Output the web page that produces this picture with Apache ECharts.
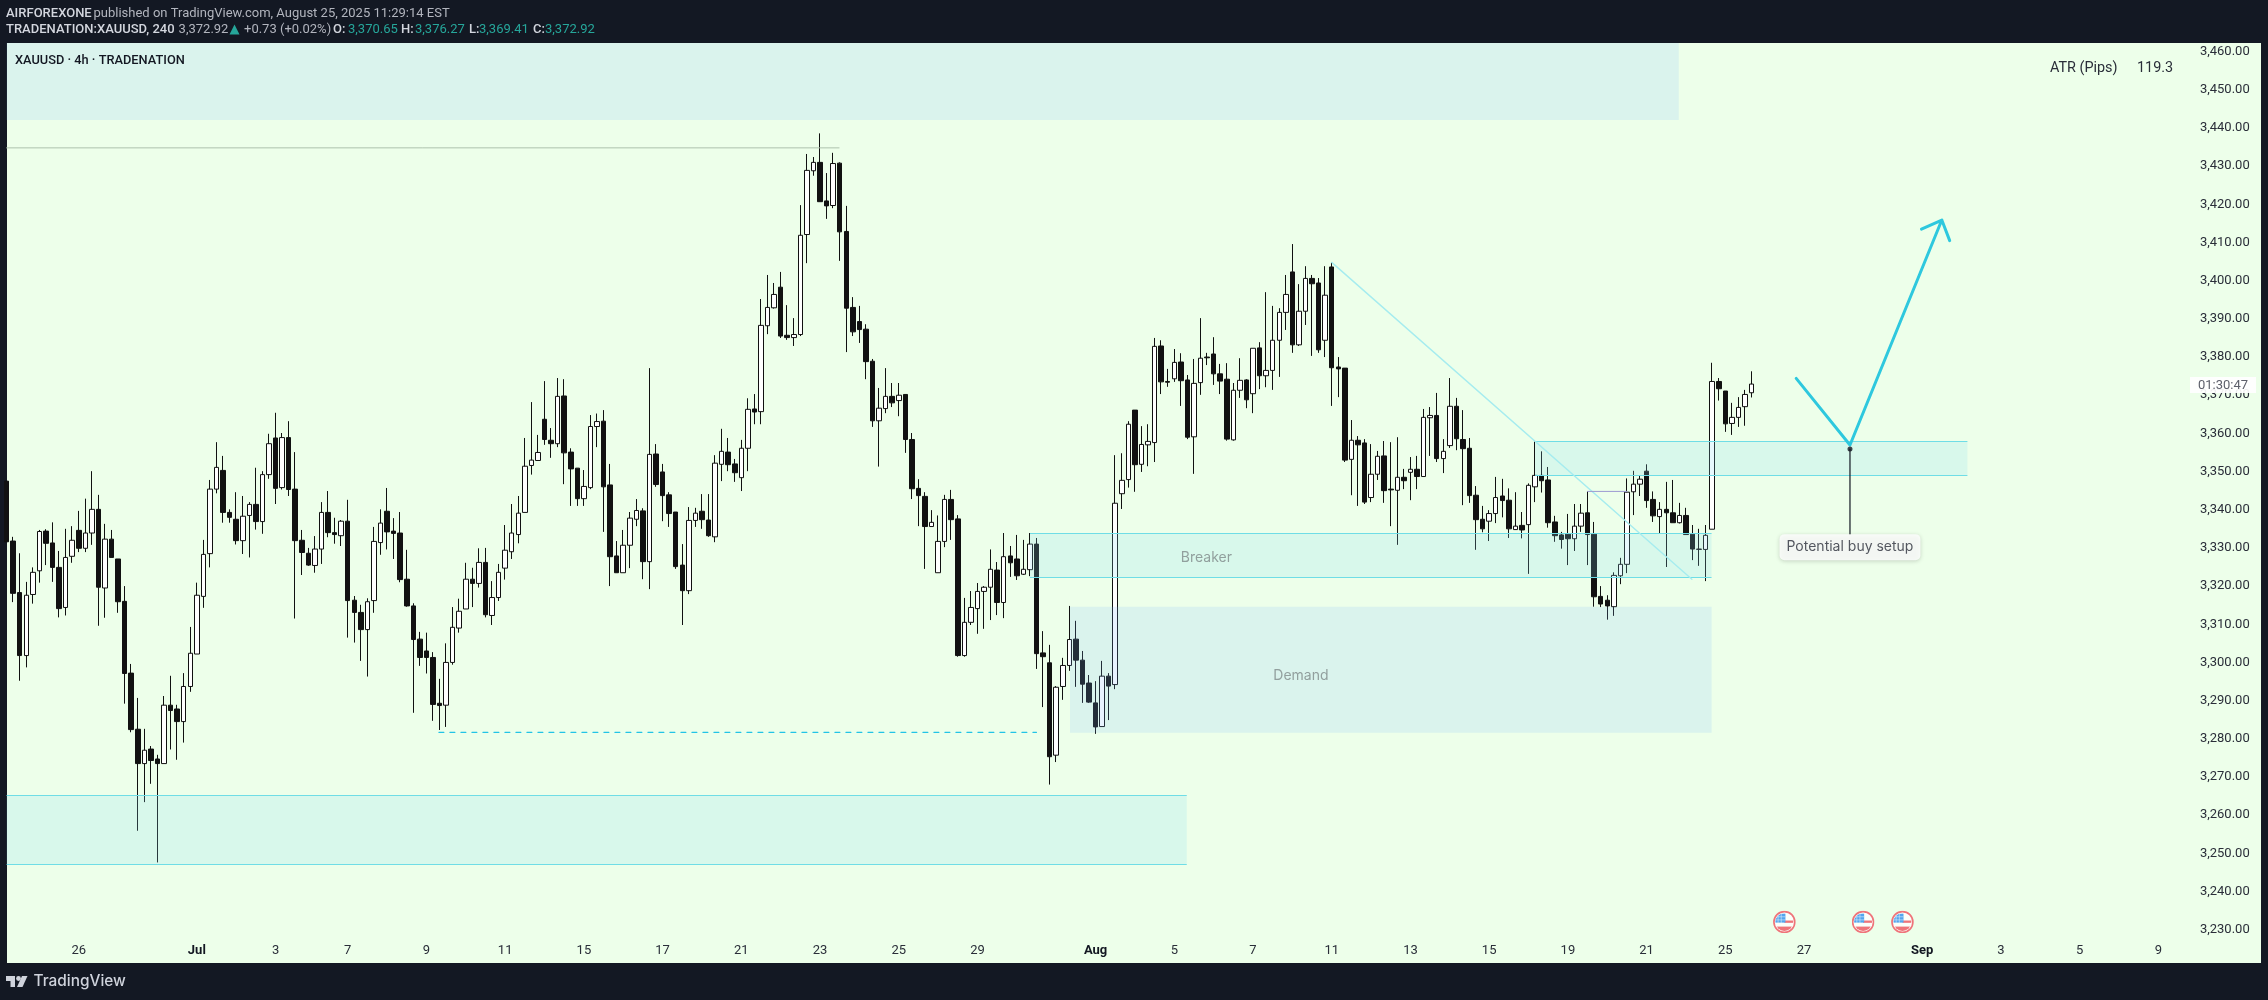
<!DOCTYPE html>
<html>
<head>
<meta charset="utf-8">
<title>XAUUSD 4h</title>
<style>
html,body{margin:0;padding:0;background:#131823;}
#chart{width:2268px;height:1000px;}
</style>
<script src="https://cdn.jsdelivr.net/npm/echarts@6/dist/echarts.min.js"></script>
</head>
<body>
<div id="chart"></div>
<script>
// rows are [open, close, low, high]
var juneRows = [
[3347.5,3331.6,3331.6,3347.5],[3331.8,3318.1,3315.8,3332.9],[3318.3,3301.8,3295.2,3328.6],[3301.8,3317.6,3298.7,3321.1],
[3317.8,3323.6,3315.4,3324.9],[3324.0,3334.3,3320.9,3334.7],[3334.4,3331.2,3325.5,3334.9],[3331.3,3324.9,3321.1,3336.7],
[3324.9,3314.1,3311.8,3329.2],[3314.4,3327.5,3312.3,3335.0],[3327.8,3332.0,3326.1,3335.7],[3334.6,3329.9,3328.9,3339.7],
[3329.9,3333.9,3328.9,3342.9],[3333.9,3340.1,3330.8,3350.1],[3340.1,3319.7,3309.6,3343.9],[3319.5,3332.3,3311.7,3336.3],
[3332.3,3327.5,3327.5,3334.7],[3327.1,3315.9,3313.0,3327.1],[3316.0,3297.1,3289.2,3320.0],[3297.2,3282.4,3281.7,3299.6],
[3282.5,3273.5,3255.9,3290.7],[3273.5,3277.0,3263.4,3282.6],[3277.3,3274.3,3268.2,3278.1],[3274.7,3273.5,3247.6,3275.8],
[3273.5,3288.8,3273.5,3291.2],[3288.8,3287.4,3277.2,3296.5],[3287.8,3284.5,3274.5,3288.9],[3284.5,3293.7,3279.0,3297.2],
[3293.7,3302.4,3292.3,3309.3]
];
var julyRows = [
[3302.2,3317.6,3302.2,3320.9],[3317.3,3328.3,3314.3,3332.1],[3328.5,3345.4,3324.9,3347.8],[3345.4,3351.1,3344.3,3357.7],
[3350.3,3339.3,3336.6,3354.1],[3339.3,3338.0,3336.6,3340.1],[3337.5,3331.9,3330.9,3344.6],[3331.9,3338.3,3328.4,3343.6],
[3338.5,3341.4,3327.5,3342.0],[3341.4,3336.9,3334.8,3351.0],[3336.9,3349.2,3333.7,3350.1],[3349.2,3357.3,3348.1,3359.9],
[3358.8,3345.6,3341.5,3365.4],[3345.8,3358.9,3345.3,3360.1],[3358.9,3345.3,3343.6,3363.2],[3345.4,3331.9,3311.5,3355.1],
[3332.0,3328.8,3322.9,3334.7],[3328.6,3325.5,3325.3,3330.0],[3325.4,3329.7,3323.5,3333.1],[3329.7,3339.3,3325.8,3342.0],
[3339.3,3334.0,3332.8,3344.9],[3334.0,3333.5,3331.1,3337.9],[3333.2,3337.0,3330.5,3337.3],[3337.0,3316.2,3306.5,3342.6],
[3316.3,3313.1,3305.2,3317.4],[3313.1,3308.6,3300.4,3315.1],[3308.6,3315.9,3296.3,3316.8],[3316.2,3331.7,3313.0,3335.5],
[3331.4,3336.5,3328.2,3340.1],[3339.6,3334.2,3329.6,3345.7],[3334.4,3333.8,3327.1,3337.8],[3333.9,3321.7,3321.0,3339.4],
[3321.8,3314.8,3314.6,3329.5],[3314.8,3306.0,3286.8,3315.5],[3306.1,3301.3,3299.1,3308.0],[3303.0,3301.3,3297.1,3307.8],
[3301.3,3289.0,3284.7,3302.7],[3289.3,3288.7,3282.3,3295.7],[3288.8,3300.0,3283.1,3305.0],[3300.0,3309.2,3299.4,3314.5],
[3309.0,3313.4,3307.8,3316.7],[3314.0,3321.8,3314.0,3326.1],[3321.8,3320.7,3314.5,3324.8],[3320.7,3326.2,3319.6,3329.9],
[3326.2,3312.5,3311.8,3330.0],[3312.3,3317.0,3309.8,3321.3],[3317.0,3323.6,3316.1,3325.8],[3324.7,3329.4,3321.7,3336.0],
[3329.0,3333.9,3327.1,3341.5],[3333.5,3339.1,3331.2,3343.6],[3339.3,3351.4,3339.3,3358.8],[3351.6,3353.0,3349.2,3368.2],
[3352.9,3355.0,3352.9,3359.6],[3363.7,3358.4,3357.0,3373.7],[3358.2,3357.3,3353.6,3361.4],[3357.3,3369.7,3356.4,3374.5],
[3369.8,3354.9,3346.7,3374.2],[3355.1,3350.7,3341.0,3356.1],[3350.9,3342.9,3341.0,3350.9],[3342.9,3346.1,3341.0,3350.4],
[3345.8,3361.8,3345.4,3364.8],[3361.8,3363.1,3356.4,3365.2],[3363.2,3346.0,3334.2,3366.1],[3346.5,3327.7,3320.0,3352.0],
[3327.9,3323.5,3323.5,3331.8],[3323.5,3330.7,3323.5,3334.7],[3330.7,3337.8,3324.7,3339.4],[3337.5,3339.8,3335.7,3342.8],
[3339.7,3326.4,3321.8,3340.4],[3326.4,3354.5,3319.2,3377.1],[3354.6,3346.6,3346.0,3357.2],[3349.9,3343.7,3337.0,3352.0],
[3343.9,3339.0,3335.5,3344.6],[3339.4,3325.1,3324.5,3339.4],[3325.5,3318.8,3309.8,3331.0],[3318.8,3337.2,3317.9,3340.7],
[3337.2,3339.1,3335.5,3340.5],[3339.6,3337.4,3335.0,3344.1],[3337.3,3333.2,3332.9,3344.1],[3332.9,3352.2,3331.5,3354.3],
[3351.9,3355.3,3347.5,3361.2],[3355.1,3351.8,3350.1,3358.8],[3352.0,3349.7,3347.3,3353.3],[3348.4,3356.1,3344.9,3358.3],
[3356.1,3366.3,3350.1,3369.2],[3366.4,3365.6,3362.4,3370.3],[3365.7,3388.3,3362.4,3395.2],[3388.2,3393.0,3386.0,3401.5],
[3392.9,3396.4,3392.7,3399.4],[3398.3,3385.5,3385.0,3402.3],[3385.7,3385.1,3384.5,3393.6],[3385.1,3385.9,3382.9,3390.2],
[3385.9,3411.9,3385.5,3419.8],[3412.1,3428.9,3404.6,3433.2],[3428.8,3431.0,3427.5,3432.4],[3431.0,3420.7,3420.7,3438.6],
[3420.9,3419.6,3416.2,3428.2],[3419.7,3430.7,3419.0,3433.5],[3430.8,3412.8,3405.2,3431.0],[3412.9,3392.8,3381.3,3419.6],
[3393.0,3386.6,3385.5,3395.7],[3389.3,3387.2,3383.7,3393.4],[3387.3,3378.8,3374.2,3388.6],[3378.9,3363.3,3361.7,3379.5],
[3363.3,3366.6,3351.3,3371.9],[3366.5,3369.7,3365.3,3377.1],[3369.7,3368.0,3366.9,3373.2],[3368.6,3370.0,3364.5,3373.2],
[3370.2,3358.4,3354.9,3370.2],[3358.4,3345.5,3342.8,3360.1],[3345.6,3343.7,3335.7,3348.0],[3343.5,3335.6,3324.5,3344.6],
[3335.6,3336.7,3335.6,3339.9],[3323.5,3331.7,3323.5,3338.5],[3331.7,3342.7,3330.2,3343.9],[3342.7,3337.4,3332.1,3345.2],
[3337.6,3301.8,3301.5,3338.6],[3301.8,3310.5,3301.5,3316.9],[3310.5,3314.4,3309.8,3318.7],[3314.1,3318.6,3307.5,3320.8],
[3318.6,3319.7,3308.8,3320.0],[3319.7,3324.4,3311.1,3329.6],[3324.2,3315.7,3312.4,3326.3],[3315.7,3327.7,3311.6,3333.9],
[3327.9,3326.1,3322.4,3330.5],[3327.1,3322.7,3321.6,3333.4],[3323.1,3324.4,3322.9,3332.1],[3324.3,3331.0,3322.6,3333.9],
[3331.0,3302.3,3298.3,3332.6],[3302.5,3301.5,3288.3,3308.2],[3299.9,3275.3,3268.0,3304.6],[3275.7,3293.5,3273.9,3293.8],
[3293.7,3299.2,3290.2,3301.2],[3299.2,3306.0,3297.8,3314.8],[3306.1,3300.6,3293.6,3310.9],[3300.6,3294.3,3289.4,3303.0],
[3294.6,3289.6,3289.4,3296.7]
];
var augustRows = [
[3289.4,3283.1,3281.3,3295.1],[3283.2,3296.4,3283.2,3300.4],[3296.4,3293.8,3284.9,3297.2],[3294.2,3341.7,3293.0,3354.3],
[3344.2,3347.7,3340.2,3354.8],[3347.9,3362.4,3345.8,3363.2],[3366.1,3351.8,3344.7,3366.1],[3351.9,3357.1,3349.9,3361.9],
[3357.0,3357.9,3351.4,3362.4],[3357.6,3382.8,3352.5,3385.0],[3382.9,3373.5,3370.3,3384.4],[3373.6,3373.4,3372.2,3376.9],
[3374.3,3378.6,3373.5,3382.1],[3378.7,3373.8,3367.2,3381.0],[3374.0,3359.0,3358.5,3375.3],[3359.1,3373.1,3349.4,3379.5],
[3373.3,3379.7,3370.1,3390.2],[3380.0,3379.8,3377.9,3381.1],[3380.8,3375.6,3372.7,3385.2],[3375.6,3373.7,3370.3,3378.2],
[3374.2,3358.5,3358.1,3378.4],[3358.3,3371.3,3358.1,3373.2],[3371.3,3373.9,3369.3,3379.7],[3374.0,3368.8,3366.6,3374.2],
[3370.4,3382.3,3365.3,3382.3],[3382.4,3375.1,3371.6,3383.9],[3375.1,3376.5,3372.1,3397.0],[3376.5,3384.4,3371.4,3393.4],
[3384.4,3391.7,3374.8,3392.8],[3391.7,3396.4,3387.1,3401.5],[3402.3,3383.2,3381.1,3409.6],[3383.2,3392.0,3382.9,3399.1],
[3392.0,3400.6,3388.4,3403.8],[3400.6,3399.2,3380.3,3401.5],[3399.4,3381.9,3381.1,3400.7],[3384.4,3396.2,3380.0,3403.8],
[3403.6,3377.2,3367.2,3404.8],[3377.4,3376.9,3369.5,3380.0],[3377.1,3353.0,3352.5,3377.1],[3353.2,3358.2,3343.8,3363.5],
[3358.2,3357.0,3341.0,3359.3],[3357.5,3342.0,3341.5,3358.5],[3343.2,3349.3,3342.0,3357.2],[3349.3,3354.0,3347.8,3355.4],
[3354.1,3345.0,3341.8,3358.0],[3345.4,3345.2,3335.7,3357.7],[3345.1,3348.5,3330.8,3359.0],[3348.5,3347.6,3345.4,3350.7],
[3349.8,3350.6,3342.5,3353.8],[3350.6,3348.7,3345.4,3354.1],[3348.7,3364.2,3348.6,3366.4],[3364.1,3364.7,3354.1,3366.9],
[3364.7,3353.4,3352.5,3370.6],[3353.4,3355.3,3349.6,3358.5],[3356.8,3367.1,3356.2,3374.5],[3367.1,3358.6,3355.6,3369.3],
[3358.4,3356.0,3341.2,3366.1],[3356.1,3343.7,3341.8,3358.8],[3343.8,3337.4,3329.5,3346.2],[3337.5,3335.0,3334.1,3341.0],
[3337.0,3339.0,3331.8,3339.9],[3339.0,3343.2,3336.5,3348.6],[3343.6,3342.4,3338.0,3348.1],[3342.5,3335.0,3332.6,3345.6],
[3334.8,3335.7,3334.7,3344.6],[3335.9,3334.7,3332.5,3339.4],[3336.1,3346.4,3323.2,3346.9],[3346.0,3349.0,3342.0,3357.9],
[3349.0,3347.6,3344.5,3355.3],[3347.8,3336.6,3335.3,3351.2],[3336.8,3333.2,3331.6,3338.4],[3333.4,3332.2,3329.8,3334.2],
[3333.6,3332.4,3325.5,3338.9],[3332.4,3335.7,3329.2,3341.5],[3335.7,3339.1,3334.2,3341.5],[3339.2,3333.5,3325.5,3344.8],
[3333.6,3317.2,3314.6,3336.8],[3317.3,3315.3,3314.5,3320.0],[3316.3,3314.8,3311.2,3317.6],[3314.6,3322.8,3312.2,3323.6],
[3322.7,3325.7,3320.5,3327.4],[3325.7,3344.6,3323.4,3348.2],[3344.7,3346.7,3338.6,3350.2],[3346.7,3348.0,3343.6,3349.0],
[3350.1,3342.4,3340.5,3351.9],[3342.7,3338.4,3336.8,3344.8],[3338.2,3340.1,3333.9,3342.0],[3340.1,3339.2,3325.0,3347.3],
[3339.2,3336.6,3336.6,3347.8],[3336.6,3338.5,3336.4,3341.8],[3338.5,3333.5,3333.5,3340.5],[3333.6,3329.7,3326.8,3336.0],
[3329.6,3329.7,3325.3,3335.0],[3329.6,3333.3,3321.3,3336.0],[3334.9,3373.6,3334.9,3378.5],[3373.6,3371.7,3368.6,3374.5],
[3371.1,3362.5,3360.4,3371.1],[3362.6,3364.2,3359.6,3368.0],[3364.2,3366.8,3361.7,3369.5],[3367.0,3370.2,3362.0,3371.4],
[3370.65,3372.92,3369.41,3376.27]
];

var slotCount = 344;
var tickSlots = [11,29,41,52,64,76,88,100,112,124,136,148,166,178,190,202,214,226,238,250,262,274,292,304,316,328];
var tickLabels = ['26','Jul','3','7','9','11','15','17','21','23','25','29','Aug','5','7','11','13','15','19','21','25','27','Sep','3','5','9'];
var monthLabels = ['Jul','Aug','Sep'];

// zones: slot from, slot to, price top, price bottom
var supplyZone = [0,254.9,3462.28,3442.1];
var lowerZone = [0,179.9,3265.2,3247.1];
var breakerZone = [156,259.9,3333.8,3322.4];
var demandZone = [162.1,259.9,3314.6,3281.6];
var upperZone = [233,298.9,3357.9,3349.0];

var highLineX = [0,126.9], highLineY = [3434.8,3434.8];
var dashLineX = [65.9,157], dashLineY = [3281.7,3281.7];
var trendX = [202,256.9], trendY = [3404.8,3321.8];
var purpleX = [241,247], purpleY = [3344.8,3344.8];
var arrowX = [272.8,281,295,291.9,295,296.2], arrowY = [3374.4,3356.96,3415.9,3413.5,3415.9,3410.5];
var calloutX = [281,281], calloutY = [3355.9,3333.6];
var flagSlots = [271,283,289], flagPrice = 3232;

var priceTicks = {min:3220,max:3470,step:10};

var candleRows = juneRows.concat(julyRows,augustRows);
var categories = [];
for (var i = 0; i < slotCount; i++) {
    var pos = tickSlots.indexOf(i);
    categories.push(pos >= 0 ? tickLabels[pos] : '');
}

var flagSvg = '<svg xmlns="http://www.w3.org/2000/svg" width="44" height="44" viewBox="0 0 22 22">'
    + '<defs><clipPath id="c"><circle cx="11" cy="11" r="8.6"/></clipPath></defs>'
    + '<circle cx="11" cy="11" r="10" fill="#fff" stroke="#f0525f" stroke-width="1.6"/>'
    + '<g clip-path="url(#c)"><rect x="2" y="15.4" width="18" height="5" fill="#f0525f"/>'
    + '<rect x="11" y="9.6" width="9" height="2.2" fill="#f0525f"/>'
    + '<rect x="2" y="3" width="10" height="8.6" fill="#2f8ff0"/>'
    + '<path d="M5 3V12M8 3V12M2 6H12M2 9H12" stroke="#cfe4fb" stroke-width=".6"/></g></svg>';

function overlayLine(name, xs, ys, color, width, type) {
    var pts = [];
    for (var k = 0; k < xs.length; k++) { pts.push([xs[k], ys[k]]); }
    return {
        name: name, type: 'line', xAxisIndex: 1, data: pts, showSymbol: false, silent: true, z: 6,
        lineStyle: {color: color, width: width, type: type || 'solid', cap: 'round', join: 'round'},
        animation: false
    };
}

function zoneSeries(name, zone, fill, border) {
    var s = {
        name: name, type: 'line', xAxisIndex: 1, data: [], silent: true, animation: false, z: 5,
        markArea: {
            silent: true, z: 4, animation: false,
            itemStyle: {color: fill, borderWidth: 0},
            data: [[{coord: [zone[0], zone[2]]}, {coord: [zone[1], zone[3]]}]]
        }
    };
    if (border) {
        s.markLine = {
            silent: true, symbol: 'none', animation: false, z: 5,
            label: {show: false},
            lineStyle: {color: border, width: 1.2, type: 'solid'},
            data: [
                [{coord: [zone[0], zone[2]]}, {coord: [zone[1], zone[2]]}],
                [{coord: [zone[0], zone[3]]}, {coord: [zone[1], zone[3]]}]
            ]
        };
    }
    return s;
}

function headerText(x, y, txt, color, weight) {
    return {
        type: 'text', x: x, y: y, z: 100, silent: true,
        style: {text: txt, fill: color, font: (weight || 'normal') + ' 13px Roboto', textVerticalAlign: 'middle'}
    };
}

var teal = '#26a69a', head = '#d3d6de', sub = '#b2b5be';
var blueFill = 'rgba(125,185,255,0.17)', aquaFill = 'rgba(137,220,240,0.2)', edge = '#6fdde6';

var chart = echarts.init(document.getElementById('chart'));
chart.setOption({
    animation: false,
    backgroundColor: '#131823',
    grid: {left: 6.6, right: 11.3, top: 13.5, bottom: 32.2},
    xAxis: [{
        type: 'category', data: categories, boundaryGap: false,
        axisLine: {show: false}, axisTick: {show: false}, splitLine: {show: false},
        axisLabel: {
            inside: true, interval: 0, margin: 11, fontFamily: 'Roboto', fontSize: 13, color: '#2a2e39',
            hideOverlap: false,
            formatter: function (v) { return monthLabels.indexOf(v) >= 0 ? '{m|' + v + '}' : v; },
            rich: {m: {fontFamily: 'Roboto', fontSize: 13, fontWeight: 'bold', color: '#131722'}}
        }
    }, {
        type: 'value', show: false, min: 0, max: slotCount - 1, splitLine: {show: false}
    }],
    yAxis: {
        type: 'value', position: 'right', scale: true,
        min: priceTicks.min, max: priceTicks.max, interval: priceTicks.step,
        axisLine: {show: false}, axisTick: {show: false}, splitLine: {show: false},
        axisLabel: {
            inside: true, margin: 7, padding: [2, 0, 0, 0], fontFamily: 'Roboto', fontSize: 13, color: '#2a2e39',
            formatter: function (v) {
                if (v <= priceTicks.min || v >= priceTicks.max) { return ''; }
                return v.toLocaleString('en-US', {minimumFractionDigits: 2, maximumFractionDigits: 2});
            }
        }
    },
    series: [
        {
            name: 'XAUUSD', type: 'candlestick', data: candleRows, barWidth: 5, z: 2,
            itemStyle: {color: '#ffffff', color0: '#111111', borderColor: '#111111', borderColor0: '#111111', borderWidth: 1}
        },
        zoneSeries('supply', supplyZone, blueFill),
        zoneSeries('lower', lowerZone, aquaFill, edge),
        zoneSeries('breaker', breakerZone, aquaFill, edge),
        zoneSeries('demand', demandZone, blueFill),
        zoneSeries('upper', upperZone, aquaFill, edge),
        overlayLine('high', highLineX, highLineY, '#adc2ad', 1),
        overlayLine('dash', dashLineX, dashLineY, '#22c4e6', 1.2, [5, 6]),
        overlayLine('trend', trendX, trendY, '#a6ecef', 1.4),
        overlayLine('purple', purpleX, purpleY, '#9d9ad2', 1),
        overlayLine('arrow', arrowX, arrowY, '#2ec8de', 3),
        overlayLine('callout', calloutX, calloutY, '#131722', 1.2),
        {
            name: 'calloutDot', type: 'scatter', xAxisIndex: 1, silent: true, z: 7,
            data: [[calloutX[0], calloutY[0]]], symbolSize: 5, itemStyle: {color: '#131722'}
        },
        {
            name: 'zoneNames', type: 'scatter', xAxisIndex: 1, silent: true, z: 7, symbolSize: 1,
            itemStyle: {color: 'transparent'},
            data: [[182.9, 3327.4, 'Breaker'], [197.3, 3296.5, 'Demand']],
            label: {
                show: true, position: 'inside', fontFamily: 'Inter', fontSize: 14, color: '#7f8a8a',
                formatter: function (p) { return p.data[2]; }
            }
        },
        {
            name: 'calloutText', type: 'scatter', xAxisIndex: 1, silent: true, z: 8, symbolSize: 1,
            itemStyle: {color: 'transparent'},
            data: [[281, 3330.2, 'Potential buy setup']],
            label: {
                show: true, position: 'inside', fontFamily: 'Inter', fontSize: 14, color: '#2a2e39',
                backgroundColor: '#ffffff', borderRadius: 5, padding: [6, 7],
                shadowColor: 'rgba(0,0,0,0.22)', shadowBlur: 4, shadowOffsetY: 1,
                formatter: function (p) { return p.data[2]; }
            }
        },
        {
            name: 'events', type: 'scatter', xAxisIndex: 1, silent: true, z: 7,
            symbol: 'image://data:image/svg+xml;charset=utf-8,' + encodeURIComponent(flagSvg),
            symbolSize: 23,
            data: flagSlots.map(function (s) { return [s, flagPrice]; })
        }
    ],
    graphic: {elements: [
        {type: 'rect', z: -10, silent: true, shape: {x: 7, y: 43, width: 2254, height: 920}, style: {fill: '#edffea'}},
        {type: 'rect', z: 60, silent: true, shape: {x: 2190, y: 377, width: 66, height: 16}, style: {fill: 'rgba(255,255,255,0.92)'}},
        {type: 'text', x: 2223, y: 386, z: 61, silent: true, style: {text: '01:30:47', fill: '#5d606b', font: '13px Roboto', textAlign: 'center', textVerticalAlign: 'middle'}},
        headerText(6, 13.5, 'AIRFOREXONE', head, '500'),
        headerText(93.5, 13.5, 'published on TradingView.com, August 25, 2025 11:29:14 EST', sub),
        headerText(6, 30, 'TRADENATION:XAUUSD, 240', head, '500'),
        headerText(178.6, 30, '3,372.92', sub),
        {type: 'polygon', z: 100, silent: true, shape: {points: [[234.5, 24.5], [229.5, 34.5], [239.5, 34.5]]}, style: {fill: teal}},
        headerText(244, 30, '+0.73 (+0.02%)', sub),
        headerText(333, 30, 'O:', head, '500'), headerText(348, 30, '3,370.65', teal),
        headerText(401, 30, 'H:', head, '500'), headerText(415, 30, '3,376.27', teal),
        headerText(469, 30, 'L:', head, '500'), headerText(479, 30, '3,369.41', teal),
        headerText(533, 30, 'C:', head, '500'), headerText(545, 30, '3,372.92', teal),
        {type: 'text', x: 15, y: 61, z: 100, silent: true, style: {text: 'XAUUSD · 4h · TRADENATION', fill: '#131722', font: '500 12.8px Roboto', textVerticalAlign: 'middle'}},
        {type: 'text', x: 2050, y: 68.5, z: 100, silent: true, style: {text: 'ATR (Pips)', fill: '#2a2e39', font: '14.4px Roboto', textVerticalAlign: 'middle'}},
        {type: 'text', x: 2137, y: 68.5, z: 100, silent: true, style: {text: '119.3', fill: '#2a2e39', font: '14.4px Roboto', textVerticalAlign: 'middle'}},
        // footer logo
        {type: 'polygon', z: 100, silent: true, shape: {points: [[6, 976], [15, 976], [15, 987], [10.5, 987], [10.5, 981], [6, 981]]}, style: {fill: '#cfd3dc'}},
        {type: 'circle', z: 100, silent: true, shape: {cx: 18.5, cy: 978.5, r: 2.4}, style: {fill: '#cfd3dc'}},
        {type: 'polygon', z: 100, silent: true, shape: {points: [[27.5, 976], [22.5, 987], [17, 987], [22, 976]]}, style: {fill: '#cfd3dc'}},
        {type: 'text', x: 33.5, y: 981.5, z: 100, silent: true, style: {text: 'TradingView', fill: '#cfd3dc', font: '500 15.4px Inter', textVerticalAlign: 'middle'}}
    ]}
});
</script>
</body>
</html>
